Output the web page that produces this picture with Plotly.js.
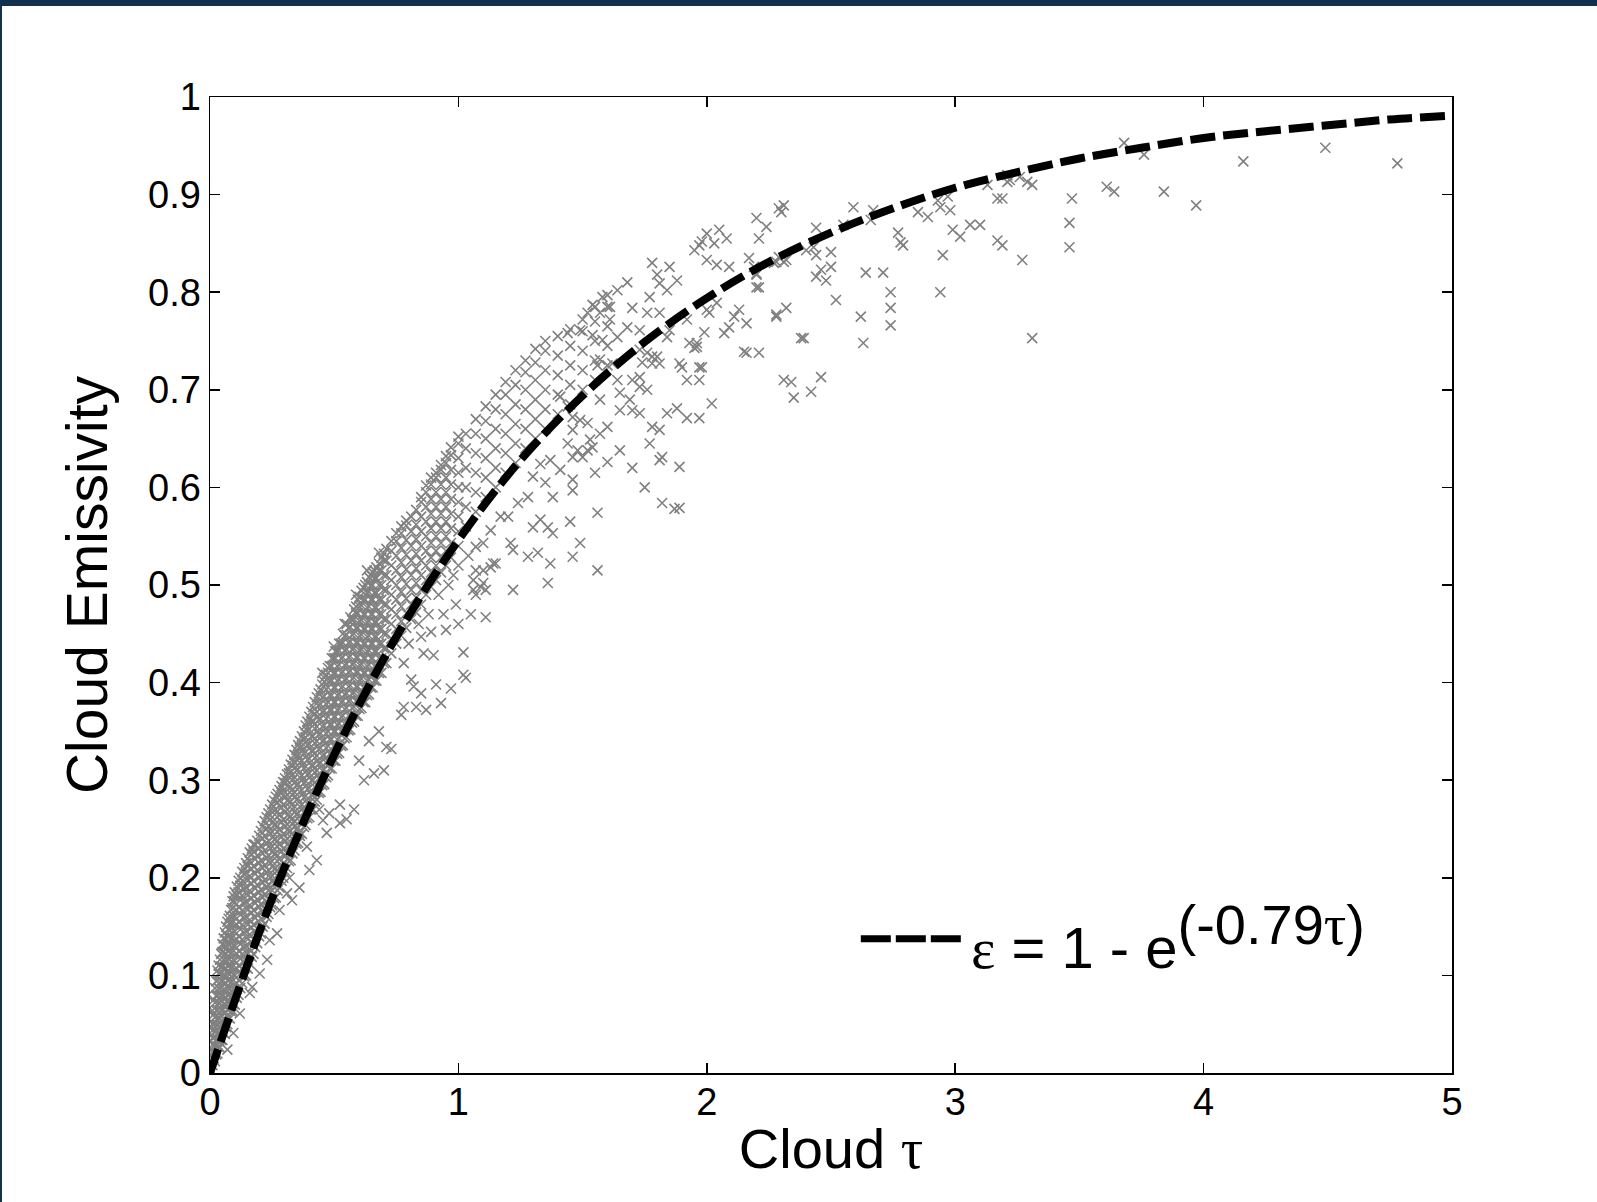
<!DOCTYPE html>
<html>
<head>
<meta charset="utf-8">
<script src="https://cdn.plot.ly/plotly-3.0.1.min.js"></script>
<style>
  html, body { margin: 0; padding: 0; background: #ffffff; overflow: hidden; }
  #chart { width: 1597px; height: 1202px; position: absolute; left: 0; top: 0; }
  .frameTop { position: absolute; left: 0; top: 0; width: 1597px; height: 6px; background: #15304f; z-index: 10; }
  .frameLeft { position: absolute; left: 0; top: 0; width: 2px; height: 1202px; background: #15304f; z-index: 10; }
</style>
</head>
<body>
<div id="chart"></div>
<div class="frameTop"></div>
<div class="frameLeft"></div>
<script>
// ---- Fitted curve: epsilon = 1 - exp(-0.79 tau), values read at tau steps of 0.25 ----
const fitTau = [0, 0.25, 0.5, 0.75, 1, 1.25, 1.5, 1.75, 2, 2.25, 2.5, 2.75, 3, 3.25, 3.5, 3.75, 4, 4.25, 4.5, 4.75, 5];
const fitEps = [0, 0.179, 0.326, 0.447, 0.546, 0.628, 0.694, 0.749, 0.794, 0.831, 0.861, 0.886, 0.907, 0.923, 0.937, 0.948, 0.958, 0.965, 0.971, 0.977, 0.981];

// ---- Dense band of observations (tau strips, emissivity values in each strip) ----
const bandTau = [0, 0.01, 0.02, 0.03, 0.04, 0.05, 0.06, 0.07, 0.08, 0.09, 0.10, 0.115, 0.13, 0.145, 0.16, 0.175, 0.19, 0.205, 0.22, 0.235,
  0.25, 0.265, 0.28, 0.295, 0.31, 0.325, 0.34, 0.355, 0.37, 0.385, 0.40, 0.415, 0.43, 0.445, 0.46, 0.475, 0.49, 0.505, 0.52, 0.535,
  0.55, 0.565, 0.58, 0.595, 0.61, 0.625, 0.64, 0.655, 0.67, 0.69, 0.71, 0.73, 0.75, 0.77, 0.79, 0.81, 0.83, 0.85, 0.87, 0.89,
  0.91, 0.93, 0.95, 0.97, 1.00, 1.03, 1.07, 1.11, 1.15, 1.19, 1.23, 1.27, 1.31, 1.35, 1.40, 1.45, 1.50, 1.55, 1.60];
const bandEps = [
  [0.004, 0.018, 0.032, 0.046],
  [0.008, 0.022, 0.036, 0.05, 0.064],
  [0.012, 0.027, 0.042, 0.057, 0.072, 0.087],
  [0.02, 0.035, 0.05, 0.065, 0.08, 0.095, 0.105],
  [0.026, 0.041, 0.056, 0.071, 0.086, 0.101, 0.116],
  [0.034, 0.049, 0.064, 0.079, 0.094, 0.109, 0.124, 0.132],
  [0.04, 0.055, 0.07, 0.085, 0.1, 0.115, 0.13, 0.144],
  [0.05, 0.065, 0.08, 0.095, 0.11, 0.125, 0.14, 0.155],
  [0.056, 0.071, 0.086, 0.101, 0.116, 0.131, 0.146, 0.161],
  [0.064, 0.079, 0.094, 0.109, 0.124, 0.139, 0.154, 0.169, 0.176],
  [0.07, 0.085, 0.1, 0.115, 0.13, 0.145, 0.16, 0.175, 0.185],
  [0.08, 0.095, 0.11, 0.125, 0.14, 0.155, 0.17, 0.185, 0.197],
  [0.092, 0.107, 0.122, 0.137, 0.152, 0.167, 0.182, 0.197, 0.206],
  [0.1, 0.115, 0.13, 0.145, 0.16, 0.175, 0.19, 0.205, 0.215],
  [0.112, 0.127, 0.142, 0.157, 0.172, 0.187, 0.202, 0.217, 0.226],
  [0.122, 0.137, 0.152, 0.167, 0.182, 0.197, 0.212, 0.227, 0.234],
  [0.133, 0.148, 0.163, 0.178, 0.193, 0.208, 0.223, 0.238],
  [0.143, 0.158, 0.173, 0.188, 0.203, 0.218, 0.233, 0.248],
  [0.153, 0.168, 0.183, 0.198, 0.213, 0.228, 0.243, 0.258],
  [0.163, 0.178, 0.193, 0.208, 0.223, 0.238, 0.253, 0.266],
  [0.172, 0.187, 0.202, 0.217, 0.232, 0.247, 0.262, 0.275],
  [0.18, 0.195, 0.21, 0.225, 0.24, 0.255, 0.27, 0.283],
  [0.19, 0.205, 0.22, 0.235, 0.25, 0.265, 0.28, 0.29],
  [0.2, 0.215, 0.23, 0.245, 0.26, 0.275, 0.29, 0.298],
  [0.21, 0.225, 0.24, 0.255, 0.27, 0.285, 0.3, 0.306],
  [0.218, 0.233, 0.248, 0.263, 0.278, 0.293, 0.308, 0.316],
  [0.228, 0.243, 0.258, 0.273, 0.288, 0.303, 0.318, 0.326],
  [0.236, 0.251, 0.266, 0.281, 0.296, 0.311, 0.326, 0.336],
  [0.245, 0.26, 0.275, 0.29, 0.305, 0.32, 0.335, 0.345],
  [0.254, 0.269, 0.284, 0.299, 0.314, 0.329, 0.344, 0.356],
  [0.262, 0.277, 0.292, 0.307, 0.322, 0.337, 0.352, 0.365],
  [0.27, 0.285, 0.3, 0.315, 0.33, 0.345, 0.36, 0.375],
  [0.28, 0.295, 0.31, 0.325, 0.34, 0.355, 0.37, 0.385],
  [0.288, 0.303, 0.318, 0.333, 0.348, 0.363, 0.378, 0.393],
  [0.296, 0.311, 0.326, 0.341, 0.356, 0.371, 0.386, 0.401, 0.405],
  [0.305, 0.32, 0.335, 0.35, 0.365, 0.38, 0.395, 0.41, 0.415],
  [0.312, 0.327, 0.342, 0.357, 0.372, 0.387, 0.402, 0.417, 0.425],
  [0.32, 0.335, 0.35, 0.365, 0.38, 0.395, 0.41, 0.425, 0.432],
  [0.328, 0.343, 0.358, 0.373, 0.388, 0.403, 0.418, 0.433, 0.44],
  [0.336, 0.351, 0.366, 0.381, 0.396, 0.411, 0.426, 0.441, 0.45],
  [0.344, 0.359, 0.374, 0.389, 0.404, 0.419, 0.434, 0.449, 0.46],
  [0.352, 0.367, 0.382, 0.397, 0.412, 0.427, 0.442, 0.457, 0.467],
  [0.36, 0.375, 0.39, 0.405, 0.42, 0.435, 0.45, 0.465, 0.475],
  [0.366, 0.381, 0.396, 0.411, 0.426, 0.441, 0.456, 0.471, 0.485],
  [0.374, 0.389, 0.404, 0.419, 0.434, 0.449, 0.464, 0.479, 0.494],
  [0.38, 0.395, 0.41, 0.425, 0.44, 0.455, 0.47, 0.485, 0.5],
  [0.388, 0.403, 0.418, 0.433, 0.448, 0.463, 0.478, 0.493, 0.508],
  [0.395, 0.41, 0.425, 0.44, 0.455, 0.47, 0.485, 0.5, 0.513],
  [0.402, 0.417, 0.432, 0.447, 0.462, 0.477, 0.492, 0.507, 0.518],
  [0.41, 0.425, 0.44, 0.455, 0.47, 0.485, 0.5, 0.515, 0.528],
  [0.42, 0.435, 0.45, 0.465, 0.48, 0.495, 0.51, 0.525, 0.537],
  [0.43, 0.445, 0.46, 0.475, 0.49, 0.505, 0.52, 0.535, 0.545],
  [0.44, 0.455, 0.47, 0.485, 0.5, 0.515, 0.53, 0.545, 0.553],
  [0.448, 0.463, 0.478, 0.493, 0.508, 0.523, 0.538, 0.553, 0.56],
  [0.456, 0.471, 0.486, 0.501, 0.516, 0.531, 0.546, 0.561, 0.566],
  [0.465, 0.48, 0.495, 0.51, 0.525, 0.54, 0.555, 0.57],
  [0.472, 0.487, 0.502, 0.517, 0.532, 0.547, 0.562, 0.577],
  [0.48, 0.495, 0.51, 0.525, 0.54, 0.555, 0.57, 0.585, 0.59],
  [0.49, 0.505, 0.52, 0.535, 0.55, 0.565, 0.58, 0.595, 0.602],
  [0.498, 0.513, 0.528, 0.543, 0.558, 0.573, 0.588, 0.603, 0.61],
  [0.505, 0.52, 0.535, 0.55, 0.565, 0.58, 0.595, 0.61, 0.615],
  [0.513, 0.528, 0.543, 0.558, 0.573, 0.588, 0.603, 0.618, 0.623],
  [0.52, 0.535, 0.55, 0.565, 0.58, 0.595, 0.61, 0.625, 0.632],
  [0.528, 0.543, 0.558, 0.573, 0.588, 0.603, 0.618, 0.633, 0.641],
  [0.54, 0.555, 0.57, 0.585, 0.6, 0.615, 0.63, 0.645, 0.652],
  [0.56, 0.58, 0.6, 0.62, 0.64, 0.655],
  [0.575, 0.595, 0.615, 0.635, 0.655, 0.67],
  [0.59, 0.61, 0.63, 0.65, 0.668, 0.683],
  [0.6, 0.62, 0.64, 0.66, 0.68, 0.695],
  [0.615, 0.635, 0.655, 0.675, 0.695, 0.708],
  [0.625, 0.645, 0.665, 0.685, 0.705, 0.72],
  [0.64, 0.66, 0.68, 0.7, 0.718, 0.73],
  [0.65, 0.67, 0.69, 0.71, 0.728, 0.742],
  [0.66, 0.68, 0.7, 0.72, 0.74, 0.75],
  [0.675, 0.695, 0.715, 0.735, 0.755],
  [0.685, 0.705, 0.725, 0.745, 0.762],
  [0.7, 0.72, 0.74, 0.76, 0.772],
  [0.71, 0.73, 0.75, 0.77, 0.785],
  [0.725, 0.745, 0.765, 0.785, 0.797]
];

// ---- Interleaved strips filling the densest part of the band ----
const band2Tau = [0.005, 0.015, 0.025, 0.035, 0.045, 0.055, 0.065, 0.075, 0.085, 0.095, 0.108, 0.122, 0.138, 0.152, 0.168, 0.182, 0.198, 0.212, 0.228, 0.242,
  0.258, 0.272, 0.288, 0.302, 0.318, 0.332, 0.348, 0.362, 0.378, 0.392, 0.408, 0.422, 0.438, 0.452, 0.468, 0.482, 0.498, 0.512, 0.528, 0.542,
  0.558, 0.572, 0.588, 0.602, 0.618, 0.632, 0.648, 0.662, 0.68, 0.70];
const band2Eps = [
  [0.011, 0.025, 0.039, 0.053],
  [0.015, 0.03, 0.045, 0.06, 0.075],
  [0.019, 0.034, 0.049, 0.064, 0.079, 0.094],
  [0.027, 0.042, 0.057, 0.072, 0.087, 0.102, 0.11],
  [0.034, 0.049, 0.064, 0.079, 0.094, 0.109, 0.122],
  [0.041, 0.056, 0.071, 0.086, 0.101, 0.116, 0.131, 0.138],
  [0.047, 0.062, 0.077, 0.092, 0.107, 0.122, 0.137, 0.15],
  [0.057, 0.072, 0.087, 0.102, 0.117, 0.132, 0.147, 0.158],
  [0.063, 0.078, 0.093, 0.108, 0.123, 0.138, 0.153, 0.167],
  [0.071, 0.086, 0.101, 0.116, 0.131, 0.146, 0.161, 0.176, 0.181],
  [0.077, 0.092, 0.107, 0.122, 0.137, 0.152, 0.167, 0.182, 0.191],
  [0.087, 0.102, 0.117, 0.132, 0.147, 0.162, 0.177, 0.192, 0.2],
  [0.099, 0.114, 0.129, 0.144, 0.159, 0.174, 0.189, 0.204, 0.21],
  [0.107, 0.122, 0.137, 0.152, 0.167, 0.182, 0.197, 0.212, 0.22],
  [0.119, 0.134, 0.149, 0.164, 0.179, 0.194, 0.209, 0.224, 0.23],
  [0.129, 0.144, 0.159, 0.174, 0.189, 0.204, 0.219, 0.234],
  [0.14, 0.155, 0.17, 0.185, 0.2, 0.215, 0.23, 0.243],
  [0.15, 0.165, 0.18, 0.195, 0.21, 0.225, 0.24, 0.253],
  [0.16, 0.175, 0.19, 0.205, 0.22, 0.235, 0.25, 0.262],
  [0.17, 0.185, 0.2, 0.215, 0.23, 0.245, 0.26, 0.27],
  [0.179, 0.194, 0.209, 0.224, 0.239, 0.254, 0.269, 0.279],
  [0.187, 0.202, 0.217, 0.232, 0.247, 0.262, 0.277, 0.286],
  [0.197, 0.212, 0.227, 0.242, 0.257, 0.272, 0.287, 0.294],
  [0.207, 0.222, 0.237, 0.252, 0.267, 0.282, 0.297, 0.302],
  [0.217, 0.232, 0.247, 0.262, 0.277, 0.292, 0.307, 0.311],
  [0.225, 0.24, 0.255, 0.27, 0.285, 0.3, 0.315, 0.321],
  [0.235, 0.25, 0.265, 0.28, 0.295, 0.31, 0.325, 0.331],
  [0.243, 0.258, 0.273, 0.288, 0.303, 0.318, 0.333, 0.34],
  [0.252, 0.267, 0.282, 0.297, 0.312, 0.327, 0.342, 0.35],
  [0.261, 0.276, 0.291, 0.306, 0.321, 0.336, 0.351, 0.36],
  [0.27, 0.285, 0.3, 0.315, 0.33, 0.345, 0.36, 0.37],
  [0.278, 0.293, 0.308, 0.323, 0.338, 0.353, 0.368, 0.38],
  [0.287, 0.302, 0.317, 0.332, 0.347, 0.362, 0.377, 0.389],
  [0.295, 0.31, 0.325, 0.34, 0.355, 0.37, 0.385, 0.398, 0.41],
  [0.303, 0.318, 0.333, 0.348, 0.363, 0.378, 0.393, 0.408],
  [0.312, 0.327, 0.342, 0.357, 0.372, 0.387, 0.402, 0.417],
  [0.32, 0.335, 0.35, 0.365, 0.38, 0.395, 0.41, 0.425, 0.437],
  [0.327, 0.342, 0.357, 0.372, 0.387, 0.402, 0.417, 0.432],
  [0.335, 0.35, 0.365, 0.38, 0.395, 0.41, 0.425, 0.44],
  [0.343, 0.358, 0.373, 0.388, 0.403, 0.418, 0.433, 0.448, 0.46],
  [0.351, 0.366, 0.381, 0.396, 0.411, 0.426, 0.441, 0.456],
  [0.359, 0.374, 0.389, 0.404, 0.419, 0.434, 0.449, 0.464],
  [0.366, 0.381, 0.396, 0.411, 0.426, 0.441, 0.456, 0.471, 0.478, 0.49],
  [0.373, 0.388, 0.403, 0.418, 0.433, 0.448, 0.463, 0.478, 0.488],
  [0.38, 0.395, 0.41, 0.425, 0.44, 0.455, 0.47, 0.485, 0.497],
  [0.387, 0.402, 0.417, 0.432, 0.447, 0.462, 0.477, 0.492, 0.503, 0.515],
  [0.395, 0.41, 0.425, 0.44, 0.455, 0.47, 0.485, 0.5, 0.51],
  [0.402, 0.417, 0.432, 0.447, 0.462, 0.477, 0.492, 0.507, 0.515],
  [0.41, 0.425, 0.44, 0.455, 0.47, 0.485, 0.5, 0.515, 0.522, 0.533],
  [0.42, 0.435, 0.45, 0.465, 0.48, 0.495, 0.51, 0.525, 0.532]
];

// ---- Scattered individual observations ----
const scatTau = [
  0.07, 0.094, 0.12, 0.16, 0.17, 0.2, 0.23, 0.24, 0.27, 0.28, 0.33, 0.31, 0.36, 0.32, 0.40, 0.43, 0.39, 0.36, 0.47, 0.455, 0.523, 0.44, 0.48, 0.523,
  0.55, 0.58, 0.66, 0.7, 0.71, 0.73, 0.62, 0.6, 0.64, 0.68,
  0.77, 0.78, 0.83, 0.87, 0.93, 0.91, 0.97, 1.02, 1.03, 0.82, 0.85, 0.81, 0.9, 1.02, 0.85, 0.89, 0.95, 1.11, 1.1, 1.14, 1.09, 1.06, 1.11,
  0.78, 0.8, 0.84, 0.88, 0.92, 0.96, 0.99, 0.86, 0.94, 1.0, 1.05, 1.07, 1.0, 1.04, 0.98,
  1.07, 1.13, 1.15, 1.1, 1.06, 1.22, 1.36, 1.56, 1.37, 1.49, 1.46, 1.21, 1.22, 1.28, 1.32, 1.33, 1.3, 1.36, 1.38, 1.45, 1.56, 1.82, 1.89, 1.38,
  1.55, 1.46, 1.46, 1.46, 1.46, 1.44, 1.48, 1.5, 1.52, 1.6, 1.57, 1.53, 1.54, 1.65, 1.6, 1.78, 1.81, 1.77, 1.82, 1.81, 1.89, 1.84, 1.88, 1.92,
  1.97, 2.02, 1.57, 1.65, 1.7, 1.73, 1.64, 1.7, 1.73, 1.76, 1.65, 1.69, 1.89, 1.97, 1.93, 1.96, 1.92, 1.97, 1.57, 1.62, 1.56, 1.73, 1.78, 1.81,
  1.74, 1.41, 1.44, 1.46, 1.49, 1.52, 1.37, 1.41, 1.33, 1.35, 1.3, 1.28, 1.24, 1.2, 1.17, 1.13, 1.1, 1.07, 1.87, 1.75, 1.7,
  1.68, 1.64, 1.58, 1.54, 1.61, 1.52, 1.57, 1.70, 1.77, 1.76, 1.81, 1.61, 1.68, 1.73, 1.64, 1.58, 1.49, 1.44, 1.54, 1.78, 1.85, 1.80, 1.81, 1.84, 1.88,
  1.95, 1.97, 2.0, 2.05, 2.08, 1.98, 2.03, 2.0, 2.04,
  2.09, 2.2, 2.2, 2.28, 2.32, 2.0, 2.04, 2.01, 2.11, 2.09, 2.07, 2.16, 2.13, 2.28, 2.32, 1.99, 1.96, 1.95, 1.85, 1.84, 1.92, 1.98, 2.16, 2.21, 2.39,
  1.9, 1.76, 1.8, 1.78, 1.73,
  2.20, 2.24, 2.21, 2.29, 2.31, 2.3, 2.59, 2.55, 2.44, 2.43, 2.44, 2.5, 2.5, 2.46, 2.48, 2.44, 2.52, 2.62,
  2.67, 2.66, 2.77, 2.78, 2.79, 2.85, 2.89, 2.93, 2.97, 2.98, 2.94, 2.99, 3.02, 3.06, 3.1, 3.17, 3.13, 3.21, 3.29, 3.31, 3.17, 2.95, 3.27, 2.94,
  3.31, 2.17, 2.19, 2.2, 2.21, 2.27, 2.31, 2.29, 2.4, 2.64, 2.71, 2.74, 2.74, 2.74, 2.63, 2.28, 2.38, 2.15, 2.31, 2.34, 2.46, 2.42, 2.35,
  3.21, 3.22, 3.26, 3.68, 3.76, 4.16, 4.49, 4.78, 3.19, 3.47, 3.46, 3.46, 3.61, 3.64, 3.84, 3.97, 3.19
];
const scatEps = [
  0.024, 0.041, 0.061, 0.082, 0.088, 0.102, 0.116, 0.136, 0.143, 0.167, 0.177, 0.184, 0.19, 0.2, 0.208, 0.218, 0.232, 0.246, 0.246, 0.259, 0.256, 0.27, 0.266, 0.275,
  0.26, 0.27, 0.307, 0.31, 0.334, 0.332, 0.3, 0.32, 0.34, 0.35,
  0.367, 0.375, 0.375, 0.372, 0.379, 0.398, 0.394, 0.408, 0.405, 0.396, 0.389, 0.403, 0.428, 0.431, 0.447, 0.452, 0.454, 0.467, 0.515, 0.522, 0.498, 0.505, 0.495,
  0.42, 0.44, 0.46, 0.47, 0.49, 0.5, 0.48, 0.43, 0.47, 0.46, 0.47, 0.49, 0.52, 0.53, 0.51,
  0.515, 0.518, 0.522, 0.502, 0.495, 0.495, 0.502, 0.515, 0.522, 0.543, 0.529, 0.543, 0.536, 0.529, 0.533, 0.567, 0.559, 0.559, 0.553, 0.565, 0.574, 0.584, 0.579, 0.59,
  0.615, 0.631, 0.608, 0.597, 0.659, 0.645, 0.638, 0.631, 0.638, 0.662, 0.655, 0.649, 0.641, 0.638, 0.626, 0.662, 0.659, 0.645, 0.631, 0.628, 0.621, 0.676, 0.681, 0.671,
  0.671, 0.686, 0.69, 0.679, 0.679, 0.676, 0.71, 0.71, 0.703, 0.7, 0.697, 0.69, 0.727, 0.723, 0.748, 0.744, 0.71, 0.71, 0.731, 0.727, 0.725, 0.741, 0.734, 0.727,
  0.728, 0.693, 0.683, 0.672, 0.669, 0.666, 0.628, 0.618, 0.624, 0.605, 0.611, 0.59, 0.584, 0.57, 0.57, 0.556, 0.543, 0.539, 0.578, 0.6, 0.62,
  0.81, 0.802, 0.795, 0.787, 0.785, 0.779, 0.779, 0.784, 0.795, 0.779, 0.779, 0.772, 0.764, 0.761, 0.754, 0.751, 0.761, 0.758, 0.756, 0.83, 0.826, 0.818, 0.809, 0.802, 0.812,
  0.843, 0.848, 0.86, 0.864, 0.855, 0.852, 0.85, 0.833, 0.828,
  0.826, 0.818, 0.805, 0.831, 0.833, 0.782, 0.789, 0.779, 0.775, 0.764, 0.758, 0.768, 0.782, 0.777, 0.784, 0.759, 0.748, 0.743, 0.761, 0.754, 0.772, 0.723, 0.738, 0.738, 0.753,
  0.723, 0.738, 0.734, 0.727, 0.713,
  0.876, 0.867, 0.855, 0.886, 0.889, 0.882, 0.887, 0.869, 0.866, 0.846, 0.838, 0.841, 0.826, 0.823, 0.812, 0.816, 0.792, 0.775,
  0.884, 0.874, 0.861, 0.851, 0.848, 0.882, 0.877, 0.894, 0.898, 0.884, 0.887, 0.864, 0.857, 0.869, 0.869, 0.896, 0.91, 0.913, 0.913, 0.91, 0.853, 0.838, 0.833, 0.8,
  0.753, 0.835, 0.826, 0.819, 0.805, 0.83, 0.831, 0.836, 0.843, 0.82, 0.82, 0.8, 0.784, 0.766, 0.748, 0.775, 0.753, 0.739, 0.71, 0.708, 0.713, 0.698, 0.692,
  0.92, 0.915, 0.918, 0.953, 0.941, 0.934, 0.948, 0.932, 0.896, 0.896, 0.871, 0.846, 0.908, 0.903, 0.903, 0.889, 0.848
];

// ---- Axis ticks ----
const xTickVals = [0, 1, 2, 3, 4, 5];
const xTickText = ['0', '1', '2', '3', '4', '5'];
const yTickVals = [0, 0.1, 0.2, 0.3, 0.4, 0.5, 0.6, 0.7, 0.8, 0.9, 1];
const yTickText = ['0', '0.1', '0.2', '0.3', '0.4', '0.5', '0.6', '0.7', '0.8', '0.9', '1'];

// Flatten band tables + scattered points into one observation series
const obsX = [], obsY = [];
bandTau.forEach((t, i) => bandEps[i].forEach(e => { obsX.push(t); obsY.push(e); }));
band2Tau.forEach((t, i) => band2Eps[i].forEach(e => { obsX.push(t); obsY.push(e); }));
scatTau.forEach((t, i) => { obsX.push(t); obsY.push(scatEps[i]); });

const SANS = 'Liberation Sans, Arial, Helvetica, sans-serif';
const SERIF = 'Liberation Serif, Times New Roman, serif';

const traces = [
  {
    type: 'scatter', mode: 'markers', x: obsX, y: obsY, name: 'Observations',
    marker: { symbol: 'x-thin-open', size: 10, color: '#808080', line: { color: '#808080', width: 1.6 } },
    hoverinfo: 'x+y'
  },
  {
    type: 'scatter', mode: 'lines', x: fitTau, y: fitEps, name: 'fit',
    line: { color: '#000000', width: 8, dash: '25px,8px', shape: 'spline' },
    hoverinfo: 'skip'
  }
];

const axisCommon = {
  showgrid: false, zeroline: false, showline: true, linecolor: '#000000', linewidth: 1.5,
  mirror: 'ticks', ticks: 'inside', ticklen: 10, tickwidth: 1.5, tickcolor: '#000000',
  tickfont: { family: SANS, size: 38, color: '#000000' }, tickmode: 'array'
};

const layout = {
  width: 1597, height: 1202,
  margin: { l: 210, r: 145, t: 97, b: 129, pad: 0 },
  paper_bgcolor: '#ffffff', plot_bgcolor: '#ffffff',
  showlegend: false,
  font: { family: SANS, color: '#000000' },
  xaxis: Object.assign({}, axisCommon, {
    range: [0, 5], tickvals: xTickVals, ticktext: xTickText, ticklabelstandoff: -5,
    title: { text: 'Cloud <span style="font-family:' + SERIF + '">τ</span>', font: { family: SANS, size: 56, color: '#000000' }, standoff: 6 }
  }),
  yaxis: Object.assign({}, axisCommon, {
    range: [0, 1], tickvals: yTickVals, ticktext: yTickText,
    title: { text: 'Cloud Emissivity', font: { family: SANS, size: 57, color: '#000000' }, standoff: 22 }
  }),
  shapes: [
    { type: 'line', xref: 'paper', yref: 'paper', x0: 0.524, x1: 0.606, y0: 0.1375, y1: 0.1375,
      line: { color: '#000000', width: 7, dash: '30px,5px' } }
  ],
  annotations: [
    { xref: 'paper', yref: 'paper', x: 0.611, y: 0.139, xanchor: 'left', yanchor: 'middle', showarrow: false,
      text: '<span style="font-family:' + SERIF + '">ε</span> = 1 - e<sup><span style="font-size:56px">(-0.79<span style="font-family:' + SERIF + '">τ</span>)</span></sup>',
      font: { family: SANS, size: 58, color: '#000000' } }
  ]
};

Plotly.newPlot('chart', traces, layout, { displayModeBar: false, staticPlot: true });
</script>
</body>
</html>
